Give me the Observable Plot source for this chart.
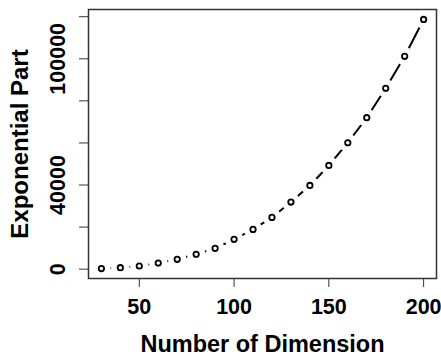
<!DOCTYPE html>
<html><head><meta charset="utf-8">
<script src="https://cdn.jsdelivr.net/npm/d3@7"></script>
<script src="https://cdn.jsdelivr.net/npm/@observablehq/plot@0.6"></script>
<style>
html,body{margin:0;padding:0;background:#fff;}
</style>
</head><body><div id="chart"></div>
<script>
const dimensions = [30, 40, 50, 60, 70, 80, 90, 100, 110, 120, 130, 140, 150, 160, 170, 180, 190, 200];
const exponentialPart = [300, 700, 1500, 2900, 4700, 7100, 9900, 14200, 18900, 24600, 31900, 39800, 49300, 60100, 72000, 86000, 101200, 118700];
const xTicks = [50, 100, 150, 200];
const yTicks = [0, 20000, 40000, 60000, 80000, 100000, 120000];
const yTickLabels = [0, 40000, 100000];
const xTitle = "Number of Dimension";
const yTitle = "Exponential Part";

const data = dimensions.map((d, i) => ({x: d, y: exponentialPart[i]}));
function rRange([a, b]) { const r = b - a; return [a - 0.04 * r, b + 0.04 * r]; }

const font = '"Liberation Sans", Arial, Helvetica, sans-serif';
const chart = Plot.plot({
  width: 441, height: 356,
  marginLeft: 88, marginRight: 5, marginTop: 9, marginBottom: 78,
  style: {fontFamily: font, fontWeight: "bold", background: "#fff", color: "#000", overflow: "visible"},
  x: {domain: rRange(d3.extent(dimensions))},
  y: {domain: rRange(d3.extent(exponentialPart))},
  marks: [
    Plot.line(data, {x: "x", y: "y", stroke: "#000", strokeWidth: 2}),
    Plot.dot(data, {x: "x", y: "y", r: 9.3, fill: "#fff", stroke: null}),
    Plot.dot(data, {x: "x", y: "y", r: 2.7, fill: "none", stroke: "#000", strokeWidth: 1.8}),
    Plot.frame({stroke: "#333", strokeWidth: 1.5}),
    Plot.axisX({ticks: xTicks, tickSize: 9, tickPadding: 11, fontSize: 21.5, label: null, stroke: "#333"}),
    Plot.axisY({ticks: yTicks, tickSize: 9, tickFormat: () => "", label: null, stroke: "#333"}),
    Plot.text(yTickLabels, {y: d => d, text: d => String(d), frameAnchor: "left", dx: -23.7, rotate: -90, textAnchor: "middle", lineAnchor: "bottom", fontSize: 21.5, fill: "#000"}),
    Plot.text([xTitle], {text: d => d, frameAnchor: "bottom", dy: 73, lineAnchor: "bottom", textAnchor: "middle", fontSize: 23.5, fill: "#000"}),
    Plot.text([yTitle], {text: d => d, frameAnchor: "left", dx: -60.7, rotate: -90, lineAnchor: "bottom", textAnchor: "middle", fontSize: 24, fill: "#000"})
  ]
});
document.getElementById("chart").appendChild(chart);
</script>
</body></html>
